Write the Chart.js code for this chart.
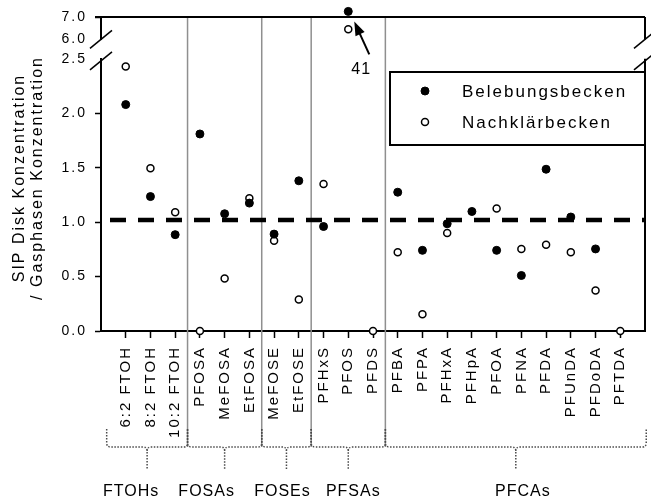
<!DOCTYPE html>
<html>
<head>
<meta charset="utf-8">
<script src="https://cdn.jsdelivr.net/npm/chart.js@4/dist/chart.umd.min.js"></script>
<style>
  html, body { margin: 0; padding: 0; background: #fff; }
  canvas { display: block; }
</style>
</head>
<body>
<canvas id="chart" width="651" height="503"></canvas>
<script>
// Compounds along the x axis (positions 1..21)
const categories = ['6:2 FTOH', '8:2 FTOH', '10:2 FTOH', 'PFOSA', 'MeFOSA', 'EtFOSA', 'MeFOSE', 'EtFOSE',
  'PFHxS', 'PFOS', 'PFDS', 'PFBA', 'PFPA', 'PFHxA', 'PFHpA', 'PFOA', 'PFNA', 'PFDA', 'PFUnDA', 'PFDoDA', 'PFTDA'];

// SIP disk / gas phase ratio
const belebungsbecken = [2.08, 1.235, 0.885, 1.81, 1.077, 1.175, 0.89, 1.38, 0.96, 41, null,
  1.275, 0.741, 0.985, 1.098, 0.741, 0.51, 1.486, 1.047, 0.754, null];
const nachklaerbecken = [2.43, 1.495, 1.092, 0.0, 0.482, 1.22, 0.83, 0.29, 1.35, 6.45, 0.0,
  0.723, 0.153, 0.90, null, 1.125, 0.754, 0.793, 0.723, 0.372, 0.0];

const referenceLevel = 1.02;

// broken y axis: lower 0..2.5, upper 6..7
const lowerTicks = [0, 0.5, 1.0, 1.5, 2.0, 2.5];
const upperTicks = [6.0, 7.0];
const breakLow = 2.5;
const offScaleMark = 7.25;   // where values above the upper range are drawn

const groupNames = ['FTOHs', 'FOSAs', 'FOSEs', 'PFSAs', 'PFCAs'];
const groupFirst = [1, 4, 7, 9, 12];
const groupLast = [3, 6, 8, 11, 21];

const titleLines = ['SIP Disk Konzentration', '/ Gasphasen Konzentration'];
const seriesNames = ['Belebungsbecken', 'Nachklärbecken'];

const FONT = '"Liberation Sans", Arial, sans-serif';
const AXIS_W = 101;

function split(values) {
  const low = [], high = [];
  values.forEach((v, i) => {
    if (v === null) return;
    if (v <= breakLow) low.push({x: i + 1, y: v});
    else high.push({x: i + 1, y: Math.min(v, offScaleMark), real: v});
  });
  return {low, high};
}
const bel = split(belebungsbecken);
const nach = split(nachklaerbecken);

const filledStyle = {pointRadius: 4, backgroundColor: '#000', borderColor: '#000', borderWidth: 1, pointHoverRadius: 4};
const openStyle = {pointRadius: 3.5, backgroundColor: '#fff', borderColor: '#000', borderWidth: 1.5, pointHoverRadius: 3.5};

function line(ctx, x1, y1, x2, y2) {
  ctx.beginPath();
  ctx.moveTo(x1, y1);
  ctx.lineTo(x2, y2);
  ctx.stroke();
}

function brace(ctx, l, r, yTop, yMid, yBot) {
  const c = (l + r) / 2, k = 4;
  ctx.beginPath();
  ctx.moveTo(l, yTop);
  ctx.lineTo(l, yMid - k);
  ctx.quadraticCurveTo(l, yMid, l + k, yMid);
  ctx.lineTo(c - k, yMid);
  ctx.quadraticCurveTo(c, yMid, c, yMid + k);
  ctx.lineTo(c, yBot);
  ctx.moveTo(c, yMid + k);
  ctx.quadraticCurveTo(c, yMid, c + k, yMid);
  ctx.lineTo(r - k, yMid);
  ctx.quadraticCurveTo(r, yMid, r, yMid - k);
  ctx.lineTo(r, yTop);
  ctx.stroke();
}

function groupBounds(x, i) {
  const l = x.getPixelForValue(i === 0 ? groupFirst[i] - 0.77 : groupFirst[i] - 0.5);
  const r = x.getPixelForValue(i === groupFirst.length - 1 ? groupLast[i] + 1.05 : groupLast[i] + 0.5);
  return [l, r];
}

const decor = {
  id: 'decor',
  beforeUpdate(chart) { chart.ctx.letterSpacing = '2px'; },
  beforeDraw(chart) { chart.ctx.letterSpacing = '2px'; },
  beforeDatasetsDraw(chart) {
    const {ctx, chartArea: a, scales} = chart;
    const {x, y, yTop} = scales;
    ctx.save();

    // group separators, running down into the label area
    ctx.strokeStyle = '#8f8f8f';
    ctx.lineWidth = 1.5;
    groupLast.slice(0, -1).forEach(last => {
      const px = x.getPixelForValue(last + 0.5);
      line(ctx, px, a.top, px, a.bottom + 116);
    });

    // frame: top and right side with the break
    ctx.strokeStyle = '#000';
    ctx.lineWidth = 2;
    line(ctx, a.left - 6, a.top, a.right, a.top);
    line(ctx, a.right, a.top, a.right, yTop.bottom);
    line(ctx, a.right, y.top, a.right, a.bottom);

    // break marks on both sides
    ctx.lineWidth = 1.5;
    [a.left, a.right].forEach(px => {
      [yTop.bottom, y.top + 2].forEach(py => line(ctx, px - 11, py + 9, px + 11, py - 9));
    });

    // group braces below the labels
    ctx.strokeStyle = '#4a4a4a';
    ctx.setLineDash([1.5, 1.5]);
    groupFirst.forEach((first, i) => {
      const [l, r] = groupBounds(x, i);
      brace(ctx, l, r, a.bottom + 98, a.bottom + 116, a.bottom + 138);
    });
    ctx.restore();
  },
  afterDatasetsDraw(chart) {
    // points pushed above the frame (off-scale values) are drawn outside the chart area
    const whole = {left: 0, top: 0, right: chart.width, bottom: chart.height};
    chart.data.datasets.forEach((ds, di) => {
      if (ds.clip !== false) return;
      chart.getDatasetMeta(di).data.forEach(pt => {
        if (pt.y < chart.chartArea.top) pt.draw(chart.ctx, whole);
      });
    });
  },
  afterDraw(chart) {
    const {ctx, chartArea: a, scales: {x}} = chart;
    ctx.save();
    ctx.fillStyle = '#000';
    ctx.textBaseline = 'middle';

    // y title
    ctx.font = '16px ' + FONT;
    ctx.letterSpacing = '2px';
    ctx.textAlign = 'center';
    [20, 38].forEach((px, i) => {
      ctx.save();
      ctx.translate(px, 178);
      ctx.rotate(-Math.PI / 2);
      ctx.fillText(titleLines[i], 0, 0);
      ctx.restore();
    });

    // group labels
    const shift = [-16, -18, -4, 5, 7];
    ctx.font = '16px ' + FONT;
    ctx.letterSpacing = '1px';
    groupFirst.forEach((first, i) => {
      const [l, r] = groupBounds(x, i);
      ctx.fillText(groupNames[i], (l + r) / 2 + shift[i], a.bottom + 161);
    });

    // off-scale point: arrow and real value
    const meta = chart.getDatasetMeta(1);
    meta.data.forEach((pt, i) => {
      const raw = chart.data.datasets[1].data[i];
      if (raw.real <= raw.y) return;
      const tx = pt.x + 6, ty = pt.y + 10;
      const bx = pt.x + 21, by = pt.y + 43;
      ctx.strokeStyle = '#000';
      ctx.lineWidth = 2;
      line(ctx, tx + 4, ty + 9, bx, by);
      const ang = Math.atan2(ty - by, tx - bx);
      ctx.beginPath();
      ctx.moveTo(tx, ty);
      ctx.lineTo(tx - 14 * Math.cos(ang) + 5 * Math.sin(ang), ty - 14 * Math.sin(ang) - 5 * Math.cos(ang));
      ctx.lineTo(tx - 14 * Math.cos(ang) - 5 * Math.sin(ang), ty - 14 * Math.sin(ang) + 5 * Math.cos(ang));
      ctx.closePath();
      ctx.fill();
      ctx.font = '16px ' + FONT;
      ctx.letterSpacing = '1px';
      ctx.fillText(String(raw.real), pt.x + 13, pt.y + 58);
    });

    // legend box
    const lw = 255, lh = 73;
    const lx = a.right - lw, ly = a.top + 55;
    ctx.fillStyle = '#fff';
    ctx.fillRect(lx, ly, lw, lh);
    ctx.strokeStyle = '#000';
    ctx.lineWidth = 2;
    ctx.strokeRect(lx, ly, lw, lh);
    ctx.font = '17px ' + FONT;
    ctx.letterSpacing = '2px';
    ctx.textAlign = 'left';
    [filledStyle, openStyle].forEach((st, i) => {
      const cy = ly + 19 + i * 31;
      ctx.beginPath();
      ctx.arc(lx + 35, cy, st.pointRadius, 0, Math.PI * 2);
      ctx.fillStyle = st.backgroundColor;
      ctx.fill();
      ctx.lineWidth = st.borderWidth;
      ctx.strokeStyle = st.borderColor;
      ctx.stroke();
      ctx.fillStyle = '#000';
      ctx.fillText(seriesNames[i], lx + 72, cy + 1);
    });
    ctx.restore();
  }
};

const tickFont = {family: FONT, size: 14};

new Chart(document.getElementById('chart'), {
  type: 'scatter',
  data: {
    datasets: [
      Object.assign({label: seriesNames[0], data: bel.low, yAxisID: 'y', order: 1}, filledStyle),
      Object.assign({label: seriesNames[0], data: bel.high, yAxisID: 'yTop', order: 1, clip: false}, filledStyle),
      Object.assign({label: seriesNames[1], data: nach.low, yAxisID: 'y', order: 2, clip: false}, openStyle),
      Object.assign({label: seriesNames[1], data: nach.high, yAxisID: 'yTop', order: 2, clip: false}, openStyle),
      {
        type: 'line', label: 'ref', yAxisID: 'y', order: 10,
        data: [{x: 0, y: referenceLevel}, {x: categories.length + 1, y: referenceLevel}],
        borderColor: '#000', borderWidth: 4.5, borderDash: [16, 12], borderDashOffset: 19,
        pointRadius: 0, showLine: true, fill: false
      }
    ]
  },
  options: {
    responsive: false,
    animation: false,
    events: [],
    layout: {padding: {top: 17, right: 6, left: 0, bottom: 0}},
    plugins: {legend: {display: false}, tooltip: {enabled: false}},
    scales: {
      x: {
        type: 'linear', position: 'bottom',
        min: 0, max: categories.length + 1,
        afterBuildTicks: s => { s.ticks = categories.map((c, i) => ({value: i + 1})); },
        afterFit: s => { s.height = 172; },
        ticks: {
          autoSkip: false, minRotation: 90, maxRotation: 90, padding: 8,
          color: '#000', font: {family: FONT, size: 15},
          callback: v => categories[v - 1]
        },
        grid: {drawOnChartArea: false, tickLength: 7, tickColor: '#000', tickWidth: 1.5},
        border: {color: '#000', width: 2}
      },
      y: {
        type: 'linear', position: 'left', stack: 'v', stackWeight: 273, weight: 0,
        min: 0, max: breakLow,
        afterBuildTicks: s => { s.ticks = lowerTicks.map(v => ({value: v})); },
        afterFit: s => { s.width = AXIS_W; },
        ticks: {autoSkip: false, color: '#000', font: tickFont, padding: 8, callback: v => v.toFixed(1)},
        grid: {
          drawOnChartArea: false, tickLength: 6, tickWidth: 1.5,
          tickColor: c => (c.tick && c.tick.value === breakLow ? 'rgba(0,0,0,0)' : '#000')
        },
        border: {color: '#000', width: 2}
      },
      yGap: {
        type: 'linear', position: 'left', stack: 'v', stackWeight: 19.5, weight: 1,
        min: 0, max: 1,
        afterFit: s => { s.width = AXIS_W; },
        ticks: {display: false},
        grid: {display: false},
        border: {display: false}
      },
      yTop: {
        type: 'linear', position: 'left', stack: 'v', stackWeight: 22.5, weight: 2,
        min: upperTicks[0], max: upperTicks[upperTicks.length - 1],
        afterBuildTicks: s => { s.ticks = upperTicks.map(v => ({value: v})); },
        afterFit: s => { s.width = AXIS_W; },
        ticks: {autoSkip: false, color: '#000', font: tickFont, padding: 8, callback: v => v.toFixed(1)},
        grid: {
          drawOnChartArea: false, tickLength: 6, tickWidth: 1.5,
          tickColor: c => (c.tick && c.tick.value === upperTicks[0] ? 'rgba(0,0,0,0)' : '#000')
        },
        border: {color: '#000', width: 2}
      }
    }
  },
  plugins: [decor]
});
</script>
</body>
</html>
